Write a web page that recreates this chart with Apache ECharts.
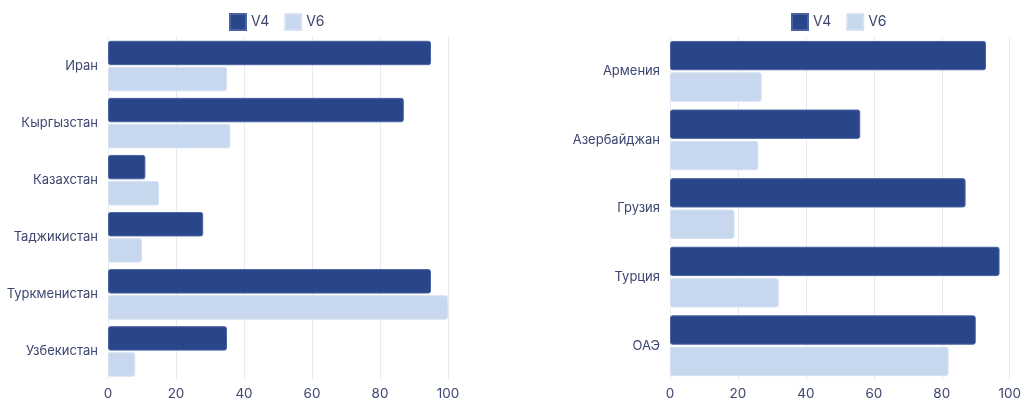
<!DOCTYPE html>
<html><head><meta charset="utf-8">
<script src="https://cdn.jsdelivr.net/npm/echarts@6/dist/echarts.min.js"></script>
<style>html,body{margin:0;padding:0;background:#fff}#c{width:1024px;height:401px}</style>
</head><body><div id="c"></div>
<script>
const leftCategories = ['Иран','Кыргызстан','Казахстан','Таджикистан','Туркменистан','Узбекистан'];
const leftV4 = [95, 87, 11, 28, 95, 35];
const leftV6 = [35, 36, 15, 10, 100, 8];
const rightCategories = ['Армения','Азербайджан','Грузия','Турция','ОАЭ'];
const rightV4 = [93, 56, 87, 97, 90];
const rightV6 = [27, 26, 19, 32, 82];
const xTicks = [0, 20, 40, 60, 80, 100];

const C4 = '#29468a', C6 = '#c6d7ee', TXT = '#3d4670', GRID = '#e7e9f0';
const font = 'Inter, "Noto Sans", sans-serif';

function xAxis(idx){
  return {type:'value', gridIndex:idx, min:xTicks[0], max:xTicks[xTicks.length-1], interval:20,
    axisLine:{show:false}, axisTick:{show:false},
    axisLabel:{color:TXT, fontSize:13.5, fontFamily:font, margin:7},
    splitLine:{show:true, lineStyle:{color:GRID, width:1}}};
}
function yAxis(idx, cats){
  return {type:'category', gridIndex:idx, data:cats, inverse:true,
    axisLine:{show:false}, axisTick:{show:false}, splitLine:{show:false},
    axisLabel:{color:TXT, fontSize:13, fontFamily:font, margin:10}};
}
function bar(name, data, idx, color, border){
  return {type:'bar', name:name, xAxisIndex:idx, yAxisIndex:idx, data:data,
    barCategoryGap:'11.5%', barGap:'7%',
    itemStyle:{color:color, borderColor:border, borderWidth:1, borderRadius:2}};
}
const legendBase = {top:8, itemWidth:16, itemHeight:16, itemGap:15, icon:'rect',
  textStyle:{color:TXT, fontSize:14, fontFamily:font}, data:['V4','V6']};
const chart = echarts.init(document.getElementById('c'));
chart.setOption({
  animation:false,
  textStyle:{fontFamily:font},
  legend:[
    Object.assign({left:224}, legendBase),
    Object.assign({left:786}, legendBase)
  ],
  grid:[
    {left:108, top:37.5, width:340, height:345.5},
    {left:670, top:37, width:341, height:347}
  ],
  xAxis:[xAxis(0), xAxis(1)],
  yAxis:[yAxis(0, leftCategories), yAxis(1, rightCategories)],
  series:[
    bar('V4', leftV4, 0, C4, '#4a63a0'),
    bar('V6', leftV6, 0, C6, '#d6e2f3'),
    bar('V4', rightV4, 1, C4, '#4a63a0'),
    bar('V6', rightV6, 1, C6, '#d6e2f3')
  ]
});
</script></body></html>
